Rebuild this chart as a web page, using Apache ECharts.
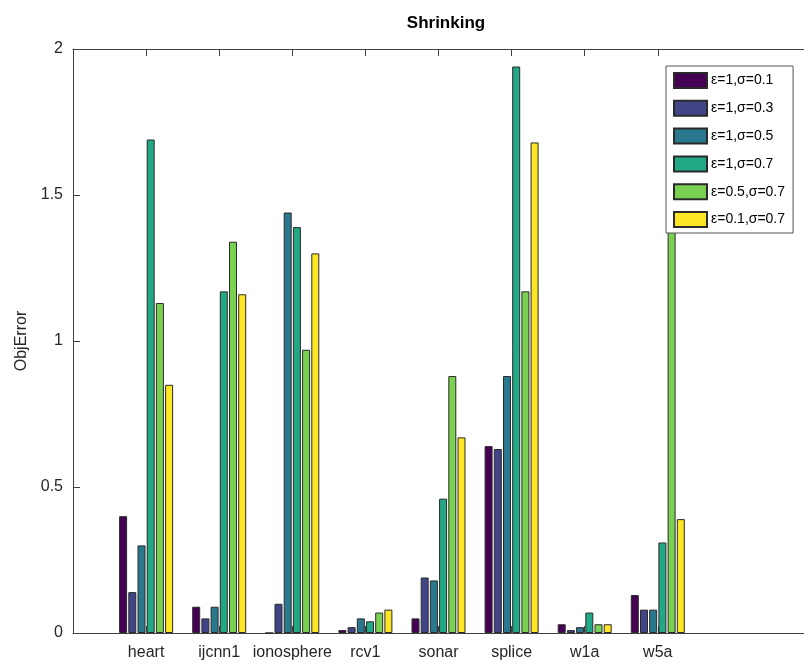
<!DOCTYPE html>
<html>
<head>
<meta charset="utf-8">
<script src="https://cdn.jsdelivr.net/npm/echarts@6/dist/echarts.min.js"></script>
<style>
  html, body { margin: 0; padding: 0; background: #fff; }
  #chart { width: 804px; height: 663px; }
</style>
</head>
<body>
<div id="chart"></div>
<script>
// Datasets on the x axis (slots 0, 9, 10 are empty padding so the axis runs 0..10)
const datasets = ['heart', 'ijcnn1', 'ionosphere', 'rcv1', 'sonar', 'splice', 'w1a', 'w5a'];

// Parameter settings, one bar per dataset
const seriesNames = ['ε=1,σ=0.1', 'ε=1,σ=0.3', 'ε=1,σ=0.5', 'ε=1,σ=0.7', 'ε=0.5,σ=0.7', 'ε=0.1,σ=0.7'];

// ObjError per dataset, for each setting
const eps1_sig01  = [0.40, 0.09, 0.00, 0.01, 0.05, 0.64, 0.03, 0.13];
const eps1_sig03  = [0.14, 0.05, 0.10, 0.02, 0.19, 0.63, 0.01, 0.08];
const eps1_sig05  = [0.30, 0.09, 1.44, 0.05, 0.18, 0.88, 0.02, 0.08];
const eps1_sig07  = [1.69, 1.17, 1.39, 0.04, 0.46, 1.94, 0.07, 0.31];
const eps05_sig07 = [1.13, 1.34, 0.97, 0.07, 0.88, 1.17, 0.03, 1.60];
const eps01_sig07 = [0.85, 1.16, 1.30, 0.08, 0.67, 1.68, 0.03, 0.39];

// Y axis ticks
const yTicks = [0, 0.5, 1, 1.5, 2];

// Viridis colours, one per setting
const colors = ['#440154', '#414487', '#2a788e', '#22a884', '#7ad151', '#fde725'];

const allValues = [eps1_sig01, eps1_sig03, eps1_sig05, eps1_sig07, eps05_sig07, eps01_sig07];

const axisCats = [''].concat(datasets, ['', '']);
const pad = v => [null].concat(v, [null, null]);

const axisColor = '#404040';
const textColor = '#262626';
const font = "'Liberation Sans', Arial, Helvetica, sans-serif";

const tickOnData = idx => idx >= 1 && idx <= datasets.length;

const chart = echarts.init(document.getElementById('chart'), null, { renderer: 'canvas' });

chart.setOption({
  animation: false,
  backgroundColor: '#fff',
  textStyle: { fontFamily: font },
  title: {
    text: 'Shrinking',
    left: 441,
    textAlign: 'center',
    top: 10,
    textStyle: { fontSize: 17, fontWeight: 'bold', color: '#000', fontFamily: font }
  },
  grid: { left: 73, right: -6, top: 49, bottom: 30, containLabel: false },
  legend: {
    orient: 'vertical',
    left: 666,
    top: 66,
    padding: [6, 8, 5, 7],
    itemGap: 10.8,
    itemWidth: 33,
    itemHeight: 15,
    icon: 'rect',
    backgroundColor: '#fff',
    borderColor: '#555',
    borderWidth: 1,
    borderRadius: 0,
    textStyle: { fontSize: 14, color: '#000', fontFamily: font, padding: [0, 0, 0, -1] },
    data: seriesNames
  },
  xAxis: [
    {
      type: 'category',
      data: axisCats,
      boundaryGap: false,
      position: 'bottom',
      axisLine: { lineStyle: { color: axisColor, width: 1 } },
      axisTick: { inside: true, length: 7, interval: tickOnData, lineStyle: { color: axisColor } },
      axisLabel: { fontSize: 16, color: textColor, margin: 12, interval: tickOnData, fontFamily: font },
      splitLine: { show: false }
    },
    {
      type: 'category',
      data: axisCats,
      boundaryGap: false,
      position: 'top',
      axisLine: { lineStyle: { color: axisColor, width: 1 } },
      axisTick: { inside: true, length: 7, interval: tickOnData, lineStyle: { color: axisColor } },
      axisLabel: { show: false },
      splitLine: { show: false }
    }
  ],
  yAxis: {
    type: 'value',
    min: yTicks[0],
    max: yTicks[yTicks.length - 1],
    interval: yTicks[1] - yTicks[0],
    name: 'ObjError',
    nameLocation: 'middle',
    nameGap: 39,
    nameRotate: 90,
    nameTextStyle: { fontSize: 16, color: textColor, fontFamily: font },
    axisLine: { show: true, lineStyle: { color: axisColor, width: 1 } },
    axisTick: { show: true, inside: true, length: 7, lineStyle: { color: axisColor } },
    axisLabel: { fontSize: 16, color: textColor, margin: 10, fontFamily: font },
    splitLine: { show: false }
  },
  series: seriesNames.map((name, i) => ({
    name: name,
    type: 'bar',
    xAxisIndex: 0,
    data: pad(allValues[i]),
    barWidth: 8,
    barGap: '15%',
    itemStyle: { color: colors[i], borderColor: '#2a2a2a', borderWidth: 1 },
    emphasis: { disabled: true }
  }))
});
</script>
</body>
</html>
